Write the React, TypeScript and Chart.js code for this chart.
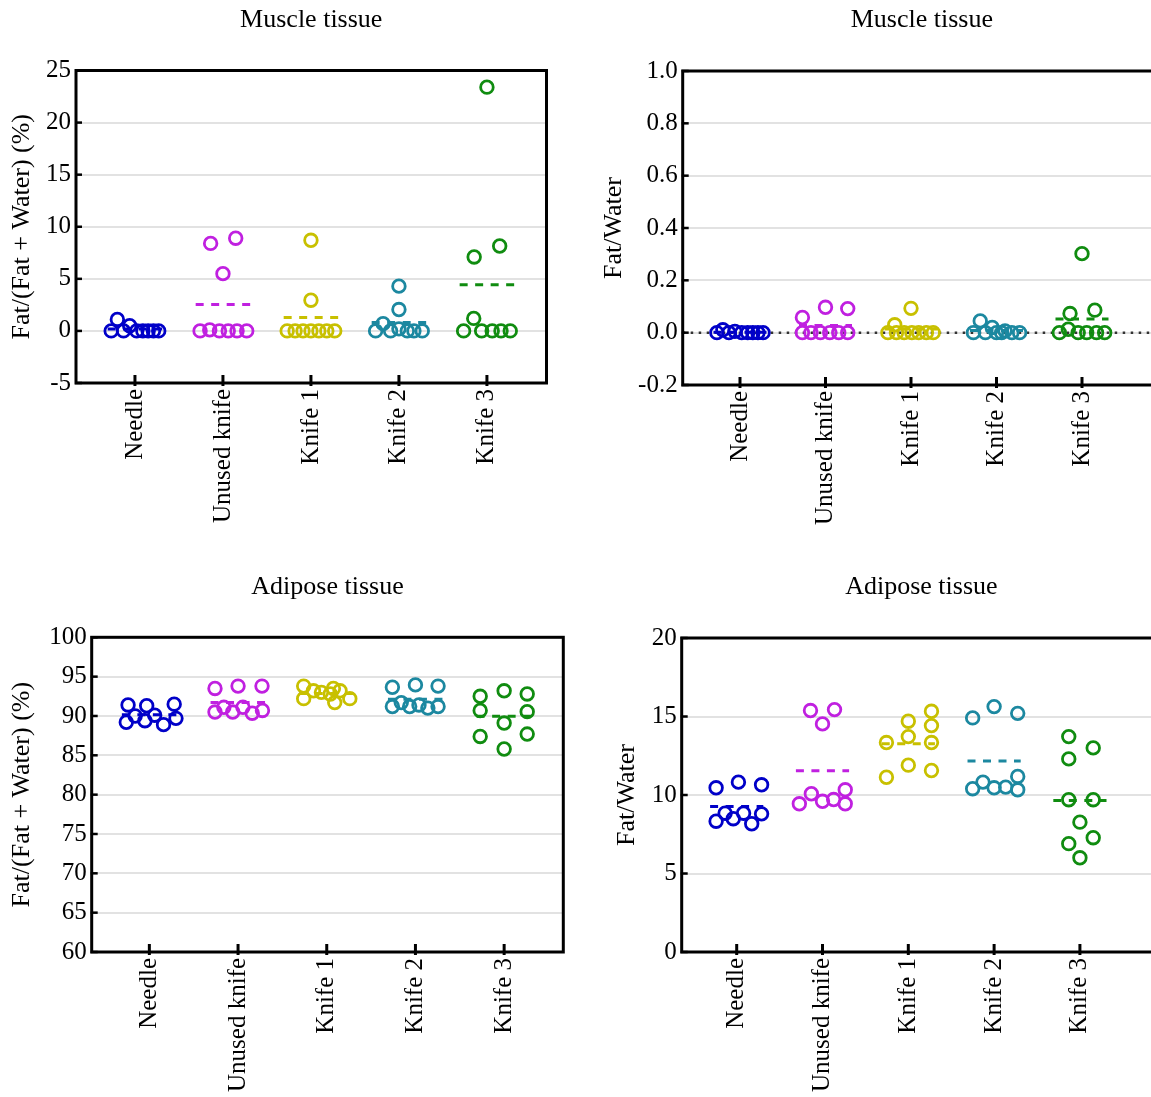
import React, { useEffect, useRef } from 'react';
import { Chart, registerables } from 'chart.js';

Chart.register(...registerables);

const FONT = "'Liberation Serif', 'Times New Roman', serif";

const categories = ['Needle', 'Unused knife', 'Knife 1', 'Knife 2', 'Knife 3'];
const groupColors = ['#0000c8', '#c020e0', '#c8c000', '#1c88a0', '#108c10'];

// Muscle tissue, Fat/(Fat + Water) (%)
const musclePctValues = [
  [0, 1.1, 0, 0.5, 0, 0, 0, 0, 0],
  [8.4, 8.9, 5.5, 0, 0.1, 0, 0, 0, 0],
  [8.7, 2.95, 0, 0, 0, 0, 0, 0, 0],
  [4.3, 2.05, 0.7, 0, 0, 0.2, 0, 0, 0],
  [23.4, 8.15, 7.1, 1.2, 0, 0, 0, 0, 0],
];
const musclePctJitter = [
  [-0.27, -0.2, -0.13, -0.06, 0.02, 0.09, 0.15, 0.21, 0.27],
  [-0.14, 0.145, 0, -0.26, -0.15, -0.04, 0.06, 0.16, 0.27],
  [0, 0, -0.27, -0.18, -0.09, 0, 0.09, 0.18, 0.27],
  [0, 0, -0.18, -0.265, -0.095, 0, 0.095, 0.17, 0.265],
  [0, 0.145, -0.145, -0.15, -0.265, -0.06, 0.06, 0.16, 0.265],
];

// Muscle tissue, Fat/Water
const muscleRatioValues = [
  [0, 0.011, 0, 0.005, 0, 0, 0, 0, 0],
  [0.058, 0.097, 0.092, 0, 0, 0, 0, 0, 0],
  [0.093, 0.03, 0, 0, 0, 0, 0, 0, 0],
  [0.045, 0.02, 0.007, 0, 0, 0, 0, 0, 0],
  [0.302, 0.073, 0.086, 0.013, 0, 0, 0, 0, 0],
];
const muscleRatioJitter = [
  [-0.27, -0.2, -0.13, -0.06, 0.02, 0.09, 0.15, 0.21, 0.27],
  [-0.27, 0, 0.26, -0.27, -0.17, -0.06, 0.05, 0.155, 0.26],
  [0, -0.19, -0.27, -0.17, -0.08, 0.01, 0.09, 0.18, 0.26],
  [-0.19, -0.05, 0.1, -0.27, -0.13, 0, 0.06, 0.18, 0.27],
  [0, -0.14, 0.15, -0.16, -0.265, -0.045, 0.055, 0.17, 0.265],
];

// Adipose tissue, Fat/(Fat + Water) (%)
const adiposePctValues = [
  [91.4, 91.3, 91.5, 89.2, 89.4, 88.9, 89.7, 90.0, 90.1],
  [93.5, 93.8, 93.8, 90.5, 91.1, 90.5, 91.1, 90.35, 90.7],
  [93.8, 92.2, 93.2, 93.0, 93.5, 93.2, 91.7, 92.2, 92.8],
  [93.65, 93.95, 93.8, 91.2, 91.7, 91.2, 91.4, 91.0, 91.2],
  [92.5, 90.7, 87.4, 93.2, 89.1, 85.8, 92.8, 90.55, 87.7],
];
const adiposePctJitter = [
  [-0.24, -0.03, 0.28, -0.26, -0.05, 0.16, 0.3, -0.16, 0.06],
  [-0.26, 0, 0.27, -0.26, -0.16, -0.06, 0.055, 0.16, 0.275],
  [-0.26, -0.26, -0.15, -0.06, 0.075, 0.15, 0.09, 0.26, 0.04],
  [-0.26, 0, 0.255, -0.26, -0.16, -0.065, 0.04, 0.14, 0.255],
  [-0.27, -0.27, -0.27, 0, 0, 0, 0.26, 0.26, 0.26],
];

// Adipose tissue, Fat/Water
const adiposeRatioValues = [
  [10.46, 10.82, 10.65, 8.33, 8.49, 8.17, 8.8, 8.84, 8.84],
  [15.38, 15.44, 14.53, 9.44, 10.08, 9.6, 9.71, 10.33, 9.44],
  [11.13, 13.34, 14.7, 13.72, 11.9, 15.33, 14.42, 13.34, 11.56],
  [14.91, 15.63, 15.2, 10.4, 10.82, 10.46, 10.5, 11.18, 10.33],
  [13.72, 12.3, 9.7, 6.9, 8.27, 6.0, 13.0, 9.7, 7.28],
];
const adiposeRatioJitter = [
  [-0.24, 0.02, 0.29, -0.24, -0.04, 0.175, 0.29, -0.135, 0.08],
  [-0.14, 0.14, 0, -0.27, -0.13, 0, 0.13, 0.265, 0.265],
  [-0.255, -0.255, 0, 0, 0, 0.27, 0.27, 0.27, 0.27],
  [-0.25, 0, 0.275, -0.25, -0.13, 0, 0.135, 0.275, 0.275],
  [-0.13, -0.13, -0.13, -0.13, 0, 0, 0.155, 0.155, 0.155],
];

const MEAN_HALF = 0.31;

type Panel = {
  title: string;
  yTitle: string;
  values: number[][];
  jitter: number[][];
  yMin: number;
  yMax: number;
  yStep: number;
  decimals: number;
  zeroLine: boolean;
  left: number;
  top: number;
  w: number;
  h: number;
  yAxisWidth: number;
  xAxisHeight: number;
  padRight: number;
  titlePadTop: number;
  titlePadBottom: number;
  yTitlePad: number;
  xMin: number;
  xMax: number;
};

const panels: Panel[] = [
  {
    title: 'Muscle tissue', yTitle: 'Fat/(Fat + Water) (%)',
    values: musclePctValues, jitter: musclePctJitter,
    yMin: -5, yMax: 25, yStep: 5, decimals: 0, zeroLine: false,
    left: 0, top: 0, w: 575, h: 545,
    yAxisWidth: 76, xAxisHeight: 162, padRight: 28.5,
    titlePadTop: 4.4, titlePadBottom: 34.9, yTitlePad: 7,
    xMin: -0.67, xMax: 4.677,
  },
  {
    title: 'Muscle tissue', yTitle: 'Fat/Water',
    values: muscleRatioValues, jitter: muscleRatioJitter,
    yMin: -0.2, yMax: 1.0, yStep: 0.2, decimals: 1, zeroLine: true,
    left: 590, top: 0, w: 600, h: 545,
    yAxisWidth: 92.7, xAxisHeight: 160, padRight: 29,
    titlePadTop: 4.4, titlePadBottom: 35.4, yTitlePad: 9,
    xMin: -0.67, xMax: 4.924,
  },
  {
    title: 'Adipose tissue', yTitle: 'Fat/(Fat + Water) (%)',
    values: adiposePctValues, jitter: adiposePctJitter,
    yMin: 60, yMax: 100, yStep: 5, decimals: 0, zeroLine: false,
    left: 0, top: 550, w: 575, h: 547,
    yAxisWidth: 91.7, xAxisHeight: 145, padRight: 11.7,
    titlePadTop: 21.4, titlePadBottom: 34.7, yTitlePad: 7,
    xMin: -0.65, xMax: 4.667,
  },
  {
    title: 'Adipose tissue', yTitle: 'Fat/Water',
    values: adiposeRatioValues, jitter: adiposeRatioJitter,
    yMin: 0, yMax: 20, yStep: 5, decimals: 0, zeroLine: false,
    left: 590, top: 550, w: 600, h: 547,
    yAxisWidth: 91.7, xAxisHeight: 145, padRight: 29,
    titlePadTop: 21.4, titlePadBottom: 35.4, yTitlePad: 22,
    xMin: -0.641, xMax: 4.945,
  },
];

const framePlugin = {
  id: 'frame',
  afterDatasetsDraw(chart: any) {
    const { ctx, chartArea } = chart;
    const { left, right, top, bottom } = chartArea;
    const x = chart.scales.x;
    const y = chart.scales.y;
    ctx.save();
    ctx.strokeStyle = '#000';
    ctx.lineWidth = 3;
    ctx.strokeRect(left, top, right - left, bottom - top);
    ctx.lineWidth = 2.5;
    y.ticks.forEach((t: any) => {
      const py = y.getPixelForValue(t.value);
      ctx.beginPath();
      ctx.moveTo(left - 1, py);
      ctx.lineTo(left + 6, py);
      ctx.stroke();
    });
    ctx.lineWidth = 3;
    x.ticks.forEach((t: any) => {
      const px = x.getPixelForValue(t.value);
      ctx.beginPath();
      ctx.moveTo(px, bottom + 3);
      ctx.lineTo(px, bottom - 8);
      ctx.stroke();
    });
    ctx.restore();
  },
};

function buildConfig(p: Panel): any {
  const datasets: any[] = [];
  p.values.forEach((vals, g) => {
    datasets.push({
      type: 'scatter',
      data: vals.map((v, k) => ({ x: g + p.jitter[g][k], y: v })),
      borderColor: groupColors[g],
      backgroundColor: 'rgba(0,0,0,0)',
      pointRadius: 6.3,
      pointHoverRadius: 6.3,
      pointBorderWidth: 2.8,
      borderWidth: 2.8,
      order: 1,
    });
    const mean = vals.reduce((a, b) => a + b, 0) / vals.length;
    datasets.push({
      type: 'line',
      data: [
        { x: g - MEAN_HALF, y: mean },
        { x: g + MEAN_HALF, y: mean },
      ],
      borderColor: groupColors[g],
      borderWidth: 3,
      borderDash: [8, 7.5],
      pointRadius: 0,
      fill: false,
      order: 2,
    });
  });
  if (p.zeroLine) {
    datasets.push({
      type: 'line',
      data: [
        { x: p.xMin, y: 0 },
        { x: p.xMax, y: 0 },
      ],
      borderColor: '#333',
      borderWidth: 2.5,
      borderDash: [2.5, 5.5],
      pointRadius: 0,
      fill: false,
      order: 3,
    });
  }
  const tickFont = { family: FONT, size: 25 };
  return {
    type: 'scatter',
    data: { datasets },
    plugins: [framePlugin],
    options: {
      responsive: false,
      animation: false,
      events: [],
      devicePixelRatio: 1,
      layout: { padding: { left: 0, top: 0, bottom: 0, right: p.padRight } },
      plugins: {
        legend: { display: false },
        tooltip: { enabled: false },
        title: {
          display: true,
          text: p.title,
          fullSize: false,
          color: '#000',
          font: { family: FONT, size: 26, weight: 'normal' },
          padding: { top: p.titlePadTop, bottom: p.titlePadBottom },
        },
      },
      scales: {
        x: {
          type: 'linear',
          min: p.xMin,
          max: p.xMax,
          afterBuildTicks: (s: any) => {
            s.ticks = categories.map((_, i) => ({ value: i }));
          },
          afterFit: (s: any) => {
            s.height = p.xAxisHeight;
          },
          ticks: {
            autoSkip: false,
            minRotation: 90,
            maxRotation: 90,
            padding: 6,
            color: '#000',
            font: tickFont,
            callback: (v: any) => categories[Math.round(Number(v))] ?? '',
          },
          grid: { display: false, drawTicks: false },
          border: { display: false },
        },
        y: {
          type: 'linear',
          min: p.yMin,
          max: p.yMax,
          afterFit: (s: any) => {
            s.width = p.yAxisWidth;
          },
          ticks: {
            stepSize: p.yStep,
            padding: 5,
            color: '#000',
            font: tickFont,
            callback: (v: any) => {
              const n = Math.abs(Number(v)) < 1e-9 ? 0 : Number(v);
              return n.toFixed(p.decimals);
            },
          },
          grid: { color: '#e2e2e2', lineWidth: 2, drawTicks: false },
          border: { display: false },
          title: {
            display: true,
            text: p.yTitle,
            color: '#000',
            font: { family: FONT, size: 26 },
            padding: { top: p.yTitlePad, bottom: 0 },
          },
        },
      },
    },
  };
}

function PanelChart({ p }: { p: Panel }) {
  const ref = useRef<HTMLCanvasElement | null>(null);
  useEffect(() => {
    if (!ref.current) return;
    const chart = new Chart(ref.current, buildConfig(p));
    return () => chart.destroy();
  }, [p]);
  return (
    <canvas
      ref={ref}
      width={p.w}
      height={p.h}
      style={{ position: 'absolute', left: p.left, top: p.top, width: p.w, height: p.h }}
    />
  );
}

export default function App() {
  return (
    <div
      style={{
        position: 'absolute',
        left: 0,
        top: 0,
        width: 1151,
        height: 1097,
        overflow: 'hidden',
        background: '#fff',
      }}
    >
      {panels.map((p, i) => (
        <PanelChart key={i} p={p} />
      ))}
    </div>
  );
}
